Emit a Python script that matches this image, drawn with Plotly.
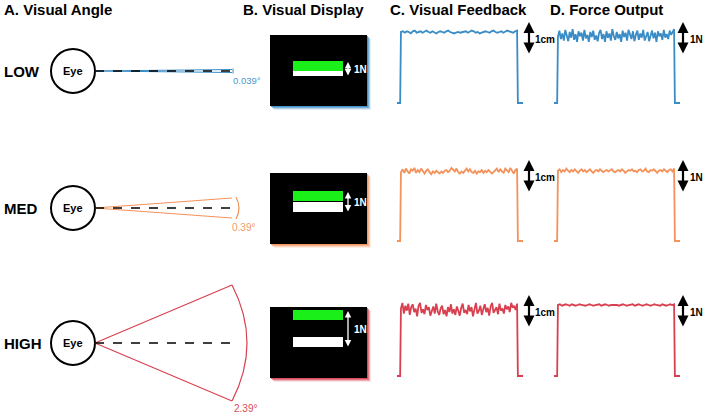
import numpy as np
import plotly.graph_objects as go

W, H = 711, 415
FONT = "Arial, Liberation Sans, sans-serif"

# ---------------- data ----------------
rows = ["LOW", "MED", "HIGH"]
angle_labels = ["0.039°", "0.39°", "2.39°"]
row_colors = ["#3a8cc6", "#f3925a", "#d8404f"]
label_colors = ["#4a97cc", "#f39a66", "#d84a5a"]
panel_titles = ["A. Visual Angle", "B. Visual Display", "C. Visual Feedback", "D. Force Output"]
scale_labels = ["1cm", "1N"]
eye_label = "Eye"
display_label = "1N"

# plateau samples of each trace (normalised: 1 = target level, 0 = rest)
feedback_low = [1.00, 1.01, 0.99, 1.01, 1.00, 0.98, 1.01, 1.02, 0.99, 1.00, 1.01, 0.99, 1.00, 1.02, 1.00,
                0.99, 1.01, 1.00, 0.98, 1.00, 1.01, 1.00, 0.99, 1.01, 1.02, 1.00, 0.99, 0.98, 0.99, 1.00,
                0.99, 1.00, 1.00, 1.01, 0.99, 1.00, 1.02, 1.01, 0.99, 1.00, 0.98, 0.99, 1.00, 1.01, 1.00,
                0.99, 1.01, 1.02, 1.00, 0.99, 1.00, 1.01, 0.99, 1.00, 1.02, 1.01, 1.00, 0.99, 1.01, 1.02]
force_low = [0.93, 1.02, 0.90, 0.98, 0.88, 1.03, 0.95, 0.87, 1.00, 0.92, 1.04, 0.89, 0.97, 0.86, 1.01, 0.94,
             0.99, 0.88, 1.03, 0.91, 0.96, 0.86, 1.00, 0.93, 1.02, 0.89, 0.95, 0.87, 0.99, 1.03, 0.90, 0.97,
             0.86, 1.01, 0.92, 0.98, 0.88, 1.04, 0.94, 0.89, 1.00, 0.91, 0.97, 0.86, 1.02, 0.93, 0.99, 0.88,
             1.03, 0.95, 0.90, 1.01, 0.87, 0.96, 1.02, 0.89, 0.98, 0.92, 1.03, 0.88, 0.95, 1.00, 0.87, 0.97,
             1.02, 0.91, 0.99, 0.86, 1.01, 0.94, 0.98, 0.89, 1.03, 0.92, 0.97, 0.90, 1.02, 0.96, 1.00, 1.04]
feedback_med = [0.97, 1.01, 0.96, 1.02, 0.98, 0.95, 1.01, 0.99, 1.03, 0.96, 1.00, 0.97, 1.02, 0.98, 0.95,
                0.99, 1.01, 0.97, 0.94, 0.98, 0.96, 0.99, 0.97, 0.95, 0.98, 0.96, 0.99, 1.00, 0.97, 0.99,
                1.03, 1.00, 0.98, 1.02, 0.97, 0.95, 0.98, 0.96, 0.99, 1.02, 0.98, 1.01, 0.97, 0.96, 0.99,
                0.95, 0.98, 0.97, 1.00, 0.96, 0.99, 0.97, 1.00, 0.98, 0.95, 0.97, 0.99, 1.02, 0.97, 1.01,
                0.98, 0.96, 1.02, 0.99, 0.97, 1.03, 0.98, 0.95, 1.00, 1.02]
force_med = [0.99, 1.01, 0.97, 1.00, 0.98, 1.02, 0.99, 0.97, 1.00, 0.98, 1.01, 0.99, 0.96, 0.99, 1.01,
             0.98, 1.00, 0.97, 0.99, 1.01, 0.98, 0.96, 0.99, 1.00, 0.98, 1.01, 0.99, 0.97, 0.99, 1.00,
             0.98, 0.99, 1.01, 0.98, 0.97, 0.99, 1.00, 0.98, 1.01, 0.99, 0.96, 0.98, 1.00, 0.99, 1.01,
             0.98, 0.99, 0.97, 1.00, 1.01, 0.98, 0.99, 1.02, 0.98, 0.97, 1.00, 0.99, 1.01, 0.98, 0.96,
             0.99, 1.00, 0.98, 1.01, 0.99, 0.97, 1.00, 1.01, 0.98, 1.02]
feedback_high = [0.95, 1.03, 0.88, 0.99, 0.92, 1.02, 0.86, 0.97, 1.01, 0.90, 0.95, 0.84, 0.99, 1.03, 0.89,
                 0.94, 0.87, 1.00, 0.93, 0.97, 0.85, 0.92, 0.98, 0.88, 1.02, 0.91, 0.86, 0.95, 0.99, 0.87,
                 0.93, 0.84, 0.97, 0.90, 1.01, 0.88, 0.94, 0.86, 0.98, 0.92, 0.85, 0.96, 1.02, 0.89, 0.93,
                 0.87, 1.00, 0.91, 0.97, 0.84, 0.95, 1.03, 0.88, 0.92, 0.99, 0.86, 0.94, 1.01, 0.90, 0.96,
                 0.85, 0.98, 1.03, 0.89, 0.93, 0.97, 0.87, 1.02, 0.92, 0.95, 0.88, 1.00, 0.94, 0.98, 0.90,
                 1.03, 0.96, 0.99, 0.93, 1.02]
force_high = [1.00, 1.01, 0.99, 1.00, 1.01, 1.00, 0.99, 1.01, 1.00, 0.99, 1.00, 1.01, 1.00, 0.99, 0.99,
              1.00, 1.01, 1.00, 0.99, 1.00, 1.00, 1.01, 0.99, 1.00, 1.01, 1.00, 0.99, 1.00, 1.00, 1.01,
              1.00, 0.99, 1.00, 1.01, 1.00, 0.99, 1.00, 1.00, 1.01, 0.99, 1.00, 1.01, 1.00, 0.99, 1.00,
              1.01, 1.00, 0.99, 1.00, 1.01, 1.00, 1.00, 0.99, 1.01, 1.00, 0.99, 1.00, 1.01, 1.00, 1.01]

feedback = [feedback_low, feedback_med, feedback_high]
force = [force_low, force_med, force_high]

# trial timing (s)
t_end = 32.0
t_rest_end = 0.8
t_on = 1.0
t_off = 30.5
t_fall = 30.7

# ---------------- layout constants (pixels) ----------------
row_y = [71, 208, 343]
wedge_half = [1.5, 10, 58]
eye_x, eye_r = 73, 22
ray_end = 232
disp_x0, disp_x1 = 270, 367
disp_top = [35, 173, 307]
disp_h = 71
bar_x0, bar_x1 = 293, 343
green_top = [61, 191, 310]
white_top = [66, 202, 337]
bar_h = 10
base_px = [103, 241, 376]
unit_px = 71
panel_x = [(397, 523), (554, 680)]
scale_arrow_x = [529, 683]
scale_label_x = [533, 688]

fig = go.Figure()
shapes = []
ann = []


def txt(x, y, s, size, color="black", bold=True, xanchor="left"):
    ann.append(dict(x=x, y=y, xref="x", yref="y", text=f"<b>{s}</b>" if bold else s,
                    showarrow=False, xanchor=xanchor, yanchor="middle",
                    font=dict(family=FONT, size=size, color=color)))


# panel titles
for s, x in zip(panel_titles, [2, 241, 388, 548]):
    txt(x, 9, s, 15)

for i, name in enumerate(rows):
    cy = row_y[i]
    col = row_colors[i]
    txt(2, cy, name, 15)
    # eye
    shapes.append(dict(type="circle", xref="x", yref="y", x0=eye_x - eye_r, x1=eye_x + eye_r,
                       y0=cy - eye_r, y1=cy + eye_r, line=dict(color="black", width=2)))
    txt(eye_x, cy, eye_label, 11, xanchor="center")
    ax0 = eye_x + eye_r
    hh = wedge_half[i]
    for sgn in (-1, 1):
        shapes.append(dict(type="line", xref="x", yref="y", x0=ax0, y0=cy, x1=ray_end, y1=cy + sgn * hh,
                           line=dict(color=col, width=1.2)))
    shapes.append(dict(type="line", xref="x", yref="y", x0=ax0, y0=cy, x1=ray_end, y1=cy,
                       line=dict(color="black", width=1.3, dash="dash")))
    # arc / bracket
    if i == 0:
        shapes.append(dict(type="line", xref="x", yref="y", x0=ray_end + 1, x1=ray_end + 1,
                           y0=cy - 2.5, y1=cy + 2.5, line=dict(color=col, width=1)))
        txt(231, cy + 9, angle_labels[i], 9.5, color=label_colors[i], bold=False)
    elif i == 1:
        p0x = ray_end + 4
        shapes.append(dict(type="path", xref="x", yref="y",
                           path=f"M {p0x},{cy - hh - 1} Q {p0x + 6},{cy} {p0x},{cy + hh + 1}",
                           line=dict(color=col, width=1.2)))
        txt(230, cy + 19, angle_labels[i], 10, color=label_colors[i], bold=False)
    else:
        shapes.append(dict(type="path", xref="x", yref="y",
                           path=f"M {ray_end},{cy - hh} Q {ray_end + 30},{cy} {ray_end},{cy + hh}",
                           line=dict(color=col, width=1.2)))
        txt(232, cy + hh + 7, angle_labels[i], 10, color=label_colors[i], bold=False)

    # display with coloured glow
    top = disp_top[i]
    for off, op in [(4, 0.15), (3, 0.3), (2, 0.5), (1, 0.8)]:
        shapes.append(dict(type="rect", xref="x", yref="y", x0=disp_x0 + off, x1=disp_x1 + off,
                           y0=top + off, y1=top + disp_h + off, fillcolor=col, opacity=op,
                           line=dict(width=0)))
    shapes.append(dict(type="rect", xref="x", yref="y", x0=disp_x0, x1=disp_x1, y0=top, y1=top + disp_h,
                       fillcolor="black", line=dict(width=0)))
    shapes.append(dict(type="rect", xref="x", yref="y", x0=bar_x0, x1=bar_x1, y0=white_top[i],
                       y1=white_top[i] + bar_h, fillcolor="white", line=dict(width=0)))
    shapes.append(dict(type="rect", xref="x", yref="y", x0=bar_x0, x1=bar_x1, y0=green_top[i],
                       y1=green_top[i] + bar_h, fillcolor="#1aef1a", line=dict(width=0)))
    a_top = green_top[i] + 1
    a_bot = white_top[i] + bar_h + 1
    ann.append(dict(x=348, y=a_top, ax=348, ay=a_bot, xref="x", yref="y", axref="x", ayref="y",
                    text="", showarrow=True, arrowhead=2, arrowside="end+start", arrowsize=1,
                    arrowwidth=1.3, arrowcolor="white", standoff=0, startstandoff=0))
    txt(352, (a_top + a_bot) / 2, display_label, 10, color="white")

    # traces
    plateau_px = base_px[i] - unit_px
    for j, vals in enumerate([feedback[i], force[i]]):
        k = 2 + i * 2 + j
        x0p, x1p = panel_x[j]
        tt = np.linspace(t_on, t_off, len(vals))
        xs = [0.0, t_rest_end] + list(tt) + [t_fall, t_end]
        ys = [0.0, 0.0] + list(vals) + [0.0, 0.0]
        fig.add_trace(go.Scatter(x=xs, y=ys, mode="lines", line=dict(color=col, width=1.8),
                                 xaxis=f"x{k}", yaxis=f"y{k}", hoverinfo="skip", showlegend=False))
        top_px = plateau_px - 12
        bot_px = base_px[i] + 2
        fig.layout[f"xaxis{k}"] = dict(domain=[x0p / W, x1p / W], range=[0, t_end], visible=False,
                                       fixedrange=True, anchor=f"y{k}")
        fig.layout[f"yaxis{k}"] = dict(domain=[1 - bot_px / H, 1 - top_px / H],
                                       range=[(base_px[i] - bot_px) / unit_px, (base_px[i] - top_px) / unit_px],
                                       visible=False, fixedrange=True, anchor=f"x{k}")
        # scale arrow
        sx = scale_arrow_x[j]
        ann.append(dict(x=sx, y=plateau_px - 10, ax=sx, ay=plateau_px + 23, xref="x", yref="y",
                        axref="x", ayref="y", text="", showarrow=True, arrowhead=2,
                        arrowside="end+start", arrowsize=1, arrowwidth=2.2, arrowcolor="black",
                        standoff=0, startstandoff=0))
        txt(scale_label_x[j], plateau_px + 7, scale_labels[j], 10)

fig.add_trace(go.Scatter(x=[0], y=[0], mode="markers", marker=dict(opacity=0), hoverinfo="skip",
                         showlegend=False))

fig.update_layout(
    width=W, height=H, margin=dict(l=0, r=0, t=0, b=0),
    paper_bgcolor="white", plot_bgcolor="white",
    xaxis=dict(range=[0, W], domain=[0, 1], visible=False, fixedrange=True),
    yaxis=dict(range=[H, 0], domain=[0, 1], visible=False, fixedrange=True),
    shapes=shapes, annotations=ann, showlegend=False,
)
fig.write_html("out.html", config=dict(displayModeBar=False),
               post_script="document.body.style.margin='0';document.body.style.overflow='hidden';")
